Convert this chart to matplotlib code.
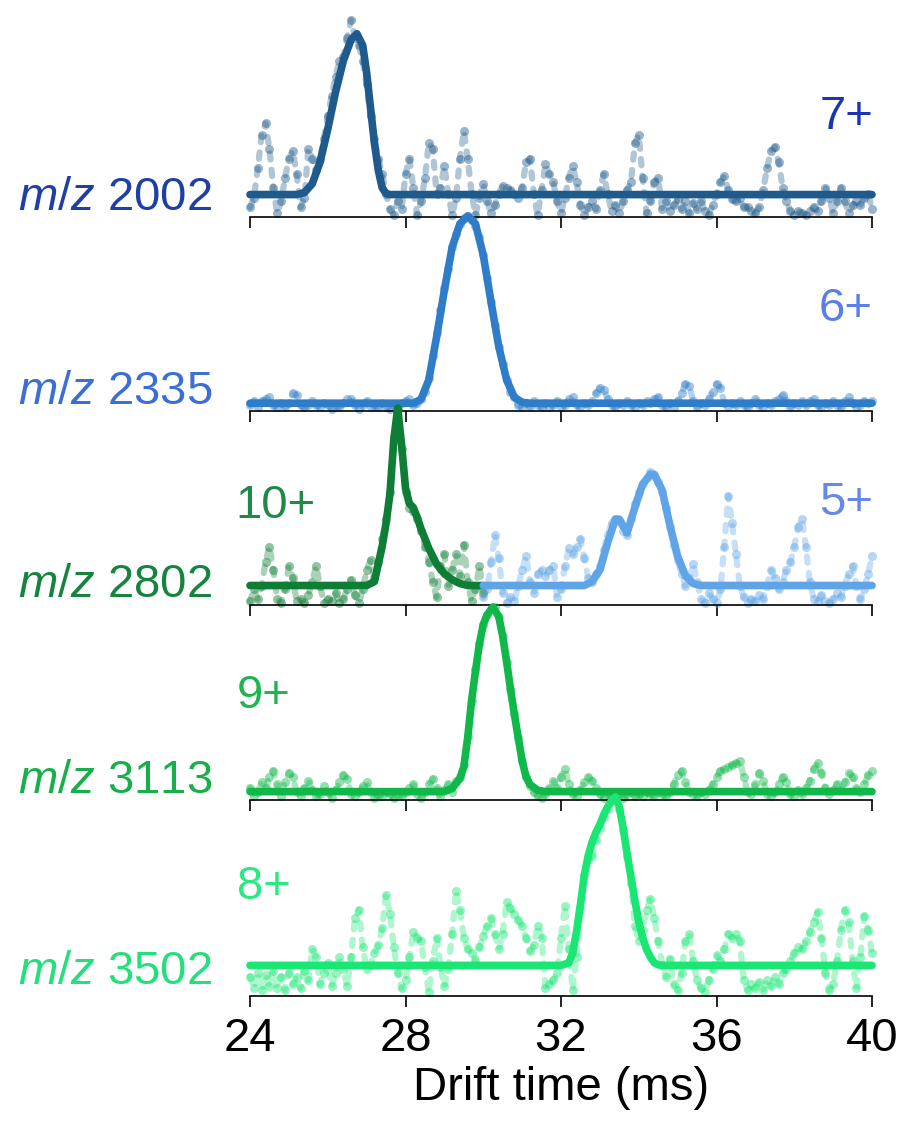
import numpy as np
import matplotlib
matplotlib.use("Agg")
import matplotlib.pyplot as plt

plt.rcParams['font.family'] = ['Liberation Sans', 'DejaVu Sans']
plt.rcParams['mathtext.fontset'] = 'custom'
plt.rcParams['mathtext.it'] = 'Liberation Sans:italic'
plt.rcParams['mathtext.rm'] = 'Liberation Sans'

# ---------------- data ----------------
# drift-time sampling grid of the raw arrival-time distributions (ms)
drift_time = np.round(np.arange(24.0, 40.05, 0.1), 1)

mz_labels = ["2002", "2335", "2802", "3113", "3502"]
charge_labels = ["7+", "6+", "10+", "9+", "8+"]
x_ticks = [24, 28, 32, 36, 40]

raw_2002 = [
    5, 10, 25, 42, 48, 35, 15, 2, 8, 20,
    30, 34, 22, 5, 10, 35, 30, 24, 30, 40,
    52, 62, 72, 80, 82, 92, 101, 92, 88, 80,
    68, 52, 40, 30, 22, 12, 4, 1, 8, 4,
    22, 30, 15, 1, 8, 20, 38, 35, 12, 15,
    26, 12, 1, 10, 30, 44, 30, 12, 1, 10,
    17, 8, 2, 6, 12, 16, 15, 14, 12, 10,
    15, 28, 30, 12, 1, 14, 27, 22, 18, 8,
    2, 10, 20, 26, 18, 6, 1, 5, 8, 4,
    14, 22, 12, 3, 6, 2, 8, 14, 18, 38,
    42, 20, 2, 8, 18, 20, 4, 8, 3, 6,
    9, 4, 8, 2, 7, 4, 8, 3, 1, 6,
    12, 18, 21, 14, 9, 8, 10, 5, 5, 3,
    2, 5, 14, 25, 34, 36, 28, 15, 8, 3,
    1, 3, 2, 1, 3, 5, 3, 8, 15, 10,
    2, 8, 15, 8, 2, 6, 8, 6, 10, 12,
    4]
fit_2002_t = [24.0, 25.2, 25.4, 25.6, 25.8, 26.0, 26.2, 26.4, 26.6, 26.75, 26.9,
              27.0, 27.1, 27.2, 27.3, 27.4, 27.5, 27.6, 40.0]
fit_2002_y = [11.5, 11.5, 12.5, 17, 28, 45, 64, 80, 91, 94, 88,
              74, 56, 38, 24, 15, 12, 11.5, 11.5]

raw_2335 = [
    3, 5, 2, 5, 6, 7, 3, 2, 4, 2,
    4, 9, 8, 3, 2, 3, 5, 3, 2, 4,
    3, 1, 3, 2, 4, 6, 6, 3, 1, 3,
    5, 2, 3, 2, 4, 2, 1, 3, 2, 4,
    5, 6, 3, 4, 6, 10, 17, 28, 40, 52,
    63, 73, 84, 91, 96, 99, 100, 98, 95, 89,
    80, 68, 56, 44, 33, 24, 16, 10, 7, 3,
    2, 4, 2, 5, 3, 2, 4, 2, 3, 5,
    2, 3, 6, 7, 3, 2, 4, 3, 5, 9,
    12, 11, 6, 3, 2, 4, 3, 5, 3, 2,
    4, 3, 5, 4, 6, 7, 3, 2, 4, 2,
    5, 9, 14, 13, 5, 2, 4, 3, 6, 10,
    14, 12, 4, 2, 4, 3, 5, 3, 2, 4,
    6, 3, 2, 4, 3, 5, 6, 8, 5, 2,
    4, 3, 5, 3, 5, 6, 3, 2, 4, 3,
    5, 3, 2, 5, 7, 4, 2, 3, 5, 4,
    5]
fit_2335_t = [24.0, 28.2, 28.4, 28.6, 28.8, 29.0, 29.2, 29.4, 29.6, 29.8,
              30.0, 30.2, 30.4, 30.6, 30.8, 31.0, 31.2, 40.0]
fit_2335_y = [4, 4, 6, 16, 38, 62, 84, 96, 100, 96,
              80, 56, 33, 16, 7, 4.5, 4, 4]

# m/z 2802: 10+ (24-30 ms) and 5+ (30-40 ms)
raw_2802_10 = [
    2, 8, 3, 10, 22, 30, 18, 3, 1, 8,
    20, 14, 2, 3, 1, 5, 12, 20, 10, 1,
    3, 2, 6, 1, 3, 8, 13, 5, 1, 8,
    18, 23, 14, 22, 34, 44, 58, 86, 100, 80,
    58, 50, 48, 44, 38, 30, 22, 12, 4, 20,
    26, 10, 18, 26, 15, 31, 12, 2, 8, 20,
    6]
fit_2802_10_t = [24.0, 27.0, 27.2, 27.4, 27.5, 27.6, 27.7, 27.8, 27.9, 28.0, 28.1,
                 28.2, 28.3, 28.4, 28.6, 28.8, 29.0, 29.2, 29.4, 29.6, 30.0]
fit_2802_10_y = [10, 10, 12, 30, 42, 57, 85, 101, 82, 60, 52,
                 50, 45, 39, 29, 21, 16, 13, 11, 10, 10]
raw_2802_5 = [
    4, 8, 22, 36, 24, 6, 1, 4, 2, 10,
    18, 25, 12, 6, 16, 18, 15, 18, 20, 4,
    8, 20, 29, 26, 30, 34, 24, 14, 12, 16,
    20, 28, 36, 42, 44, 43, 38, 36, 44, 52,
    58, 62, 65, 68, 66, 63, 58, 50, 40, 31,
    23, 16, 10, 14, 21, 12, 3, 1, 6, 3,
    1, 8, 30, 56, 42, 26, 10, 4, 1, 3,
    2, 5, 3, 10, 18, 14, 8, 12, 18, 22,
    30, 40, 44, 30, 12, 3, 2, 5, 2, 1,
    3, 6, 4, 10, 16, 20, 10, 3, 8, 16,
    25]
fit_2802_5_t = [30.0, 32.6, 32.8, 33.0, 33.2, 33.4, 33.5, 33.7, 33.9, 34.1, 34.3,
                34.4, 34.6, 34.8, 35.0, 35.2, 35.4, 35.6, 40.0]
fit_2802_5_y = [10, 10, 12, 18, 32, 44, 44, 37, 50, 62, 67,
                67, 59, 41, 25, 15, 11, 10, 10]

raw_3113 = [
    6, 2, 4, 9, 6, 12, 15, 8, 2, 9,
    14, 12, 4, 2, 6, 10, 5, 2, 3, 7,
    4, 1, 5, 9, 13, 11, 3, 2, 4, 7,
    9, 4, 1, 3, 2, 4, 3, 1, 3, 2,
    4, 6, 8, 3, 1, 4, 8, 11, 6, 2,
    5, 8, 4, 10, 12, 18, 33, 51, 67, 80,
    90, 95, 98, 99, 94, 84, 71, 57, 44, 32,
    20, 12, 7, 4, 2, 1, 3, 6, 10, 6,
    12, 16, 8, 3, 2, 5, 9, 12, 10, 6,
    3, 1, 3, 2, 4, 3, 1, 3, 4, 2,
    3, 2, 4, 3, 2, 4, 3, 2, 4, 8,
    13, 15, 9, 4, 3, 2, 4, 3, 5, 8,
    12, 15, 16, 17, 18, 19, 20, 12, 4, 3,
    8, 14, 10, 3, 2, 4, 8, 12, 9, 3,
    2, 5, 3, 6, 10, 16, 19, 14, 6, 3,
    5, 8, 5, 9, 14, 12, 6, 4, 8, 13,
    15]
fit_3113_t = [24.0, 29.0, 29.2, 29.4, 29.5, 29.6, 29.7, 29.8, 29.9, 30.0, 30.1, 30.25,
              30.4, 30.5, 30.6, 30.7, 30.8, 30.9, 31.0, 31.1, 31.2, 31.4, 31.6, 40.0]
fit_3113_y = [4.3, 4.3, 6, 11, 17, 32, 51, 66, 80, 90, 95, 99,
              94, 84, 71, 57, 44, 32, 20, 12, 8, 5, 4.3, 4.3]

raw_3502 = [
    10, 4, 12, 3, 11, 5, 13, 4, 10, 3,
    12, 6, 10, 4, 13, 8, 24, 20, 6, 12,
    17, 5, 12, 20, 14, 5, 20, 40, 44, 25,
    14, 16, 22, 26, 35, 52, 42, 25, 12, 4,
    8, 20, 33, 30, 28, 15, 2, 18, 30, 15,
    5, 14, 32, 54, 44, 30, 24, 22, 18, 25,
    31, 36, 40, 32, 24, 32, 48, 45, 42, 39,
    36, 30, 23, 26, 36, 30, 4, 6, 8, 12,
    30, 46, 24, 3, 20, 45, 62, 70, 72, 80,
    86, 92, 96, 100, 102, 96, 85, 72, 58, 36,
    28, 34, 44, 50, 40, 28, 16, 10, 19, 6,
    3, 12, 28, 32, 18, 8, 4, 2, 8, 14,
    21, 18, 24, 32, 30, 32, 28, 8, 3, 6,
    4, 7, 3, 8, 5, 10, 6, 12, 14, 18,
    22, 25, 24, 28, 33, 38, 43, 30, 12, 3,
    6, 18, 34, 44, 38, 18, 4, 20, 41, 34,
    22]
fit_3502_t = [24.0, 32.0, 32.2, 32.3, 32.4, 32.5, 32.6, 32.7, 32.8, 32.9, 33.0, 33.1,
              33.2, 33.3, 33.4, 33.5, 33.6, 33.7, 33.8, 33.9, 34.0, 34.1, 34.2, 34.3,
              34.4, 34.5, 34.6, 40.0]
fit_3502_y = [15.7, 15.7, 17, 22, 33, 47, 62, 72, 79, 84, 88, 93,
              97, 100, 102, 97, 86, 73, 61, 49, 38, 30, 24, 20,
              17, 16, 15.7, 15.7]

# ---------------- styling ----------------
W, H = 899, 1123
fig = plt.figure(figsize=(W / 100, H / 100), dpi=100)

spine_px = [217, 411, 605, 800, 996]
ax_left, ax_width = 250 / W, 622 / W
ax_height = 195 / H

line_cols = ["#1f5a8c", "#2f7dc8", "#0e7d35", "#10b84a", "#1ae673"]
blue5_col = "#5ea4e6"
mz_cols = ["#1e3fa5", "#3b6fd6", "#16843e", "#16b04a", "#22e07a"]
ch_cols = ["#1a35b0", "#5a7fe6", "#1e8a48", "#1db451", "#2be882"]
blue5_label_col = "#6688e6"

mz_center_px = [198, 392, 585, 781, 972]
ch_pos = [("right", 873, 117), ("right", 873, 309), ("left", 235, 506),
          ("left", 237, 696), ("left", 237, 887)]

series = [
    [(drift_time, raw_2002, fit_2002_t, fit_2002_y, line_cols[0])],
    [(drift_time, raw_2335, fit_2335_t, fit_2335_y, line_cols[1])],
    [(drift_time[drift_time <= 30.0], raw_2802_10, fit_2802_10_t, fit_2802_10_y, line_cols[2]),
     (drift_time[drift_time >= 30.0], raw_2802_5, fit_2802_5_t, fit_2802_5_y, blue5_col)],
    [(drift_time, raw_3113, fit_3113_t, fit_3113_y, line_cols[3])],
    [(drift_time, raw_3502, fit_3502_t, fit_3502_y, line_cols[4])],
]

FS = 34
for i, sp in enumerate(spine_px):
    ax = fig.add_axes([ax_left, 1 - sp / H, ax_width, ax_height])
    ax.patch.set_visible(False)
    for s in series[i]:
        t, raw, ft, fy, col = s
        ax.plot(t, raw, ':', color=col, lw=4.5, alpha=0.35, clip_on=False,
                dash_capstyle='round', zorder=1)
        ax.plot(t, raw, 'o', color=col, ms=6.5, mew=0, alpha=0.45, clip_on=False, zorder=2)
        ax.plot(ft, fy, '-', color=col, lw=5.5, clip_on=False,
                solid_capstyle='round', solid_joinstyle='round', zorder=3)
    ax.set_xlim(24, 40)
    ax.set_ylim(0, 100)
    for side in ("left", "right", "top"):
        ax.spines[side].set_visible(False)
    ax.spines["bottom"].set_linewidth(1.2)
    ax.set_yticks([])
    ax.set_xticks(x_ticks)
    ax.tick_params(axis='x', direction='out', length=8, width=1.2, pad=7,
                   labelsize=FS)
    if i < 4:
        ax.tick_params(axis='x', labelbottom=False)
    else:
        ax.set_xlabel("Drift time (ms)", fontsize=FS, labelpad=4)

    fig.text(212 / W, 1 - mz_center_px[i] / H, r"$\it{m/z}$ " + mz_labels[i],
             ha='right', va='center', fontsize=FS, color=mz_cols[i])
    ha, xp, yp = ch_pos[i]
    fig.text(xp / W, 1 - yp / H, charge_labels[i], ha=ha, va='center',
             fontsize=FS, color=ch_cols[i])

fig.text(873 / W, 1 - 503 / H, "5+", ha='right', va='center', fontsize=FS,
         color=blue5_label_col)

fig.savefig("out.png", dpi=100)
